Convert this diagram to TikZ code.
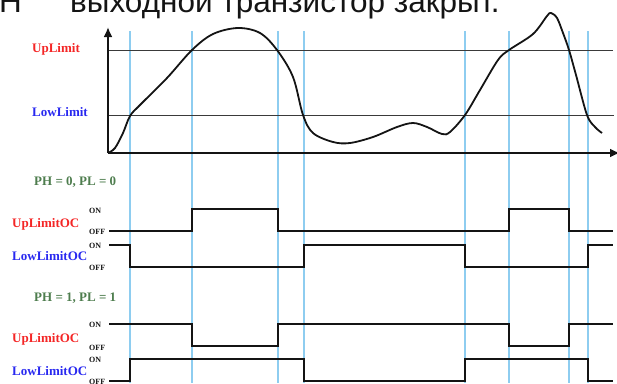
\documentclass[tikz,border=0pt]{standalone}
\usepackage{fontspec}
\setmainfont{Liberation Serif}
\newfontfamily\headfont{Liberation Sans}
\usetikzlibrary{arrows.meta}
\definecolor{LimUp}{HTML}{F42626}
\definecolor{LimLow}{HTML}{2828F0}
\definecolor{ParGreen}{HTML}{4E7D4E}
\definecolor{GridBlue}{HTML}{8ECDF0}
\definecolor{AxisInk}{HTML}{141414}
\definecolor{LevelInk}{HTML}{3A3A3A}

\begin{document}
\begin{tikzpicture}[x=1pt,y=-1pt,>={Latex[length=10pt,width=9pt]}]
  \tikzset{tag/.style={inner sep=0pt, anchor=base west, font=\bfseries\fontsize{13}{13}\selectfont},
    onoff/.style={inner sep=0pt, anchor=base west, text=AxisInk, font=\bfseries\fontsize{8}{8}\selectfont},
    headln/.style={inner sep=0pt, anchor=base west, text=AxisInk, font=\headfont\fontsize{31.5}{31.5}\selectfont},
    gridln/.style={draw=GridBlue, line width=1.3pt},
    levelln/.style={draw=LevelInk, line width=0.9pt},
    axisln/.style={draw=AxisInk, line width=2.4pt},
    sigln/.style={draw=AxisInk, line width=2pt}}
  \useasboundingbox (0,0) rectangle (617,383);
  \clip (0,0) rectangle (617,383);
  % cropped caption line
  \node[headln] (capH) at (-1,12) {Н};
  \node[headln] (caption) at (70,12) {выходной транзистор закрыт.};
  % switching instants
  \foreach \t in {130,192,278,304,465,509,569,588}{\draw[gridln] (\t,31) -- (\t,383);}
  % axes and limits
  \coordinate (O) at (108,153);
  \coordinate (ytip) at (108,27);
  \coordinate (xtip) at (620,153);
  \draw[levelln] (108,50) -- (613,50);
  \draw[levelln] (108,115.5) -- (614,115.5);
  \draw[axisln,->] (O) -- (ytip);
  \draw[axisln,->] (O) -- (xtip);
  \draw[line width=1.8pt, AxisInk] plot[smooth, tension=0.55] coordinates {(108,153) (115,148) (123,133) (130,116) (140,105) (167,78) (192,50) (213,34) (238,28) (260,33) (277,50) (293,77) (303,115) (313,133) (333,142) (350,143) (373,137) (397,127) (413,123) (427,127) (442,134) (450,132) (465,115) (480,90) (498,60) (509,50) (533,34) (547,16) (551,13) (557,18) (563,33) (569,50) (576,75) (587,115) (595,127) (602,133)};
  \node[tag, text=LimUp] (uplim) at (32,52) {UpLimit};
  \node[tag, text=LimLow] (lowlim) at (32,116) {LowLimit};
  % PH = 0, PL = 0
  \node[tag, text=ParGreen] (par0) at (34,185) {PH = 0, PL = 0};
  \node[tag, text=LimUp] (up0) at (12,227.7) {UpLimitOC};
  \node[onoff] (up0on) at (89,213) {ON};
  \node[onoff] (up0off) at (89,234) {OFF};
  \node[tag, text=LimLow] (low0) at (12,260.7) {LowLimitOC};
  \node[onoff] (low0on) at (89,248) {ON};
  \node[onoff] (low0off) at (89,270) {OFF};
  \draw[sigln] (109,231) -- (192,231) -- (192,209) -- (278,209) -- (278,231) -- (509,231) -- (509,209) -- (569,209) -- (569,231) -- (613,231);
  \draw[sigln] (109,245) -- (130,245) -- (130,267) -- (304,267) -- (304,245) -- (465,245) -- (465,267) -- (588,267) -- (588,245) -- (613,245);
  % PH = 1, PL = 1
  \node[tag, text=ParGreen] (par1) at (34,301) {PH = 1, PL = 1};
  \node[tag, text=LimUp] (up1) at (12,342.5) {UpLimitOC};
  \node[onoff] (up1on) at (89,327.7) {ON};
  \node[onoff] (up1off) at (89,350) {OFF};
  \node[tag, text=LimLow] (low1) at (12,375.3) {LowLimitOC};
  \node[onoff] (low1on) at (89,362) {ON};
  \node[onoff] (low1off) at (89,384.5) {OFF};
  \draw[sigln] (109,324) -- (192,324) -- (192,346) -- (278,346) -- (278,324) -- (509,324) -- (509,346) -- (569,346) -- (569,324) -- (613,324);
  \draw[sigln] (109,381) -- (130,381) -- (130,359) -- (304,359) -- (304,381) -- (465,381) -- (465,359) -- (588,359) -- (588,381) -- (613,381);
\end{tikzpicture}
\end{document}
